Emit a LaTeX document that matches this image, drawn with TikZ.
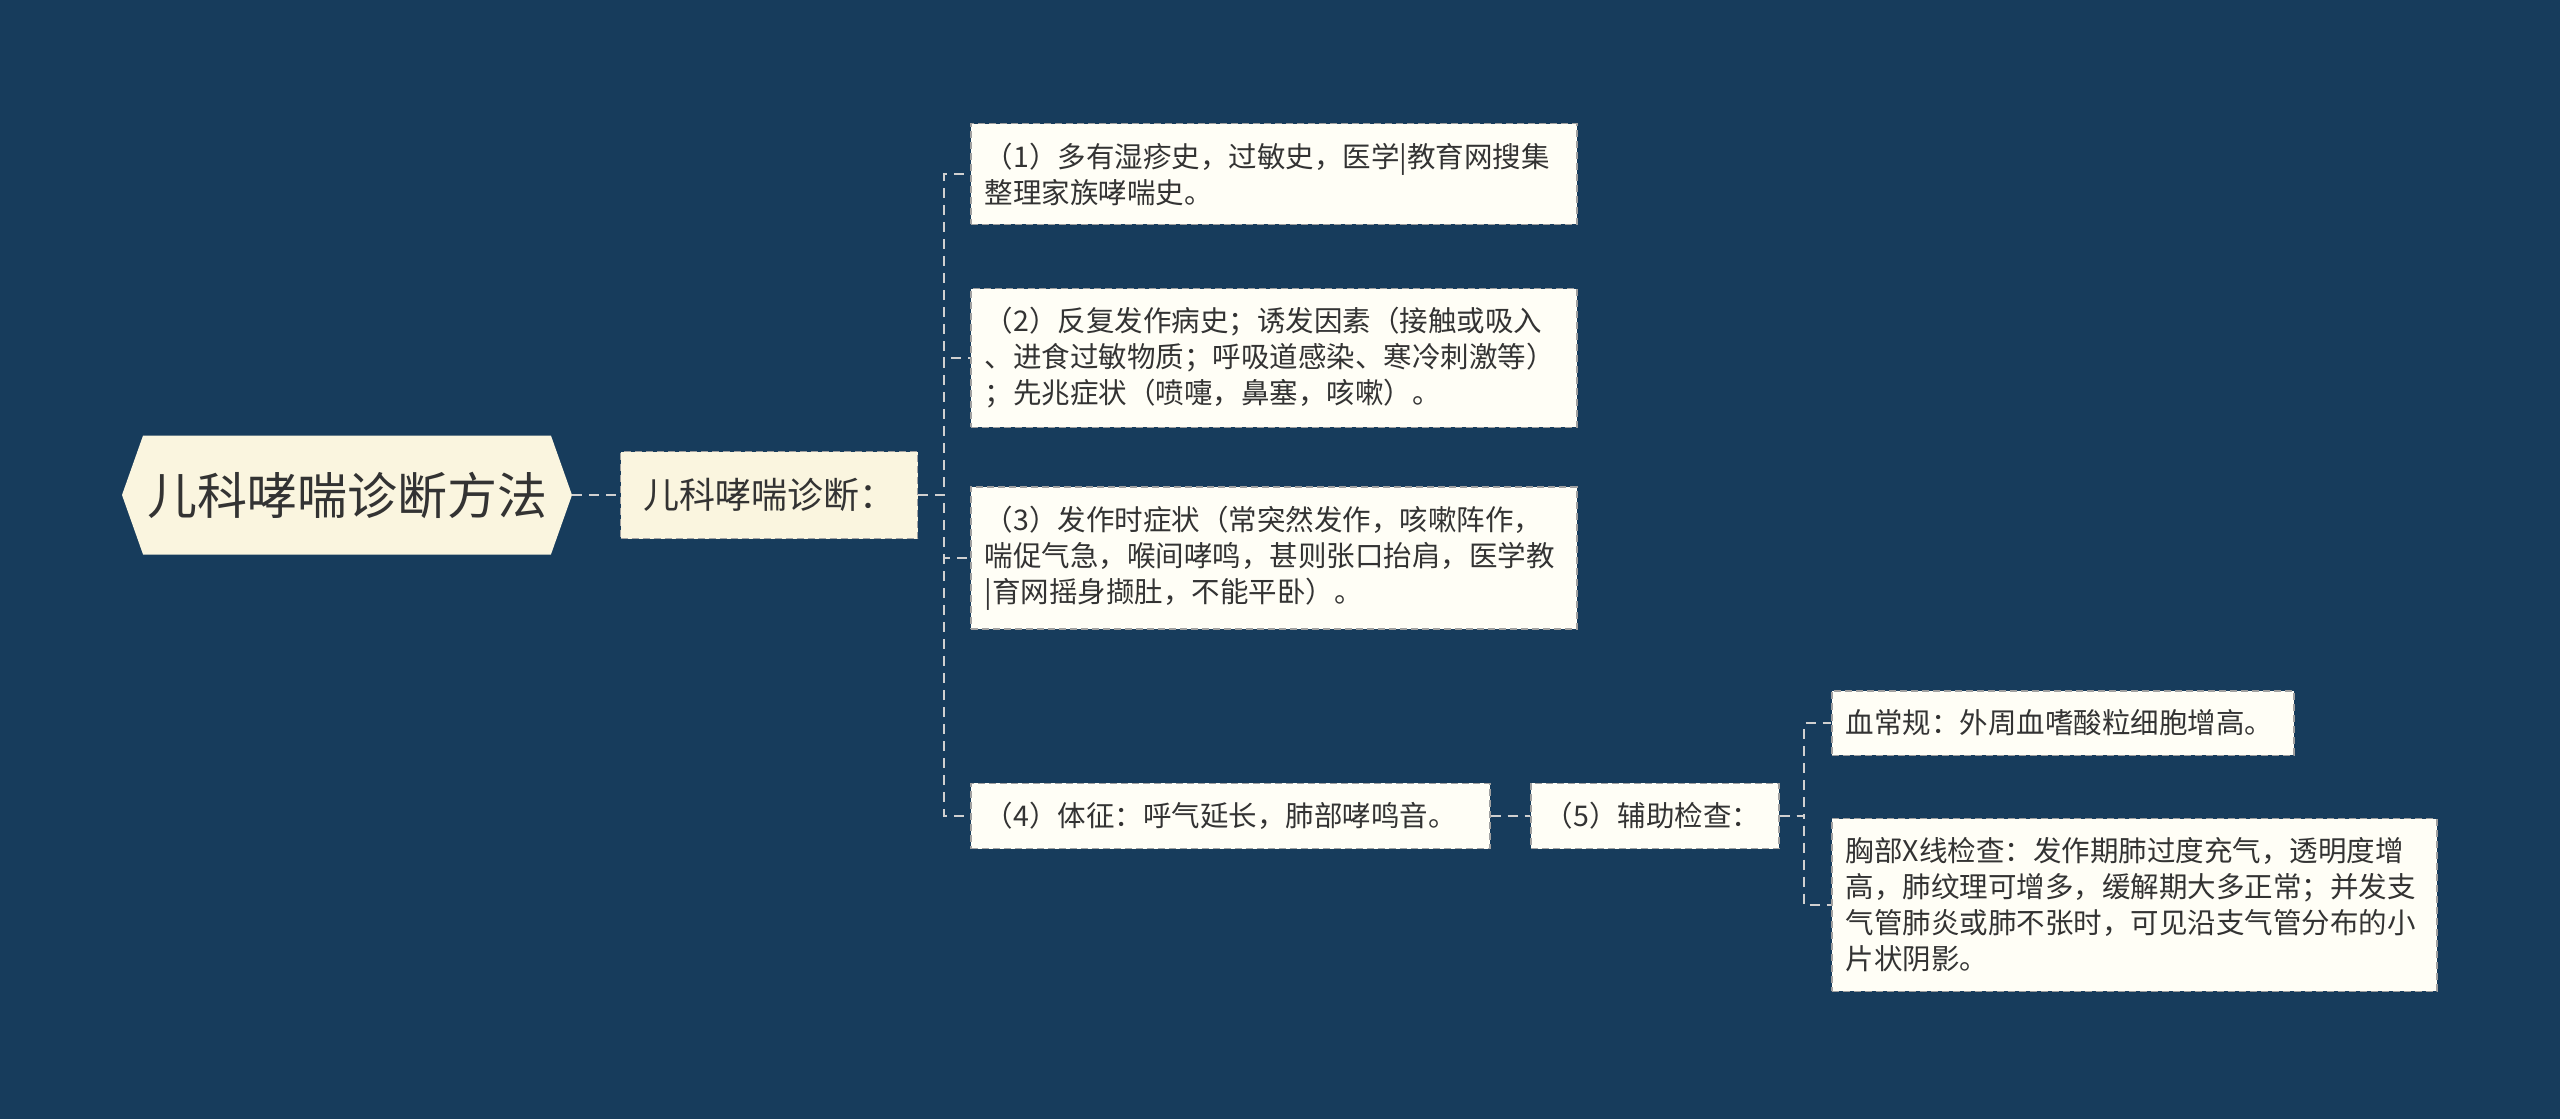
\documentclass[tikz,border=0pt]{standalone}
\usepackage{fontspec}
\usepackage{xcolor}
\usepackage{tikz}
\usetikzlibrary{positioning,shapes.symbols}
\newfontfamily\cjk{Noto Sans CJK SC}
\definecolor{bgblue}{HTML}{173C5C}
\definecolor{creamfill}{HTML}{FAF5DF}
\definecolor{leaffill}{HTML}{FFFEF6}
\definecolor{boxborder}{HTML}{A0A0A0}
\definecolor{wiregray}{HTML}{D0D0D0}
\definecolor{inkgray}{HTML}{333333}
\tikzset{
	rootnode/.style={signal, signal to=west and east, signal pointer angle=141, fill=creamfill, text=inkgray, minimum width=450pt, minimum height=119pt, inner sep=0pt, font=\cjk\fontsize{50}{60}\selectfont},
	midnode/.style={rectangle, draw=boxborder, fill=creamfill, text=inkgray, line width=1.5pt, dash pattern=on 7pt off 4pt, minimum width=297pt, minimum height=87pt, inner xsep=8pt, font=\cjk\fontsize{36}{44}\selectfont},
	leafnode/.style={rectangle, draw=boxborder, fill=leaffill, text=inkgray, line width=1.5pt, dash pattern=on 7pt off 4pt, anchor=west, align=left, inner xsep=14pt, inner ysep=19pt, font=\cjk\fontsize{28.5}{36}\selectfont},
	wire/.style={draw=wiregray, line width=2pt, dash pattern=on 10pt off 7pt}
}
\begin{document}
\begin{tikzpicture}[x=1pt, y=-1pt]
		\fill[bgblue] (0,0) rectangle (2560,1119);
		\useasboundingbox (0,0) rectangle (2560,1119);
		\node[rootnode] at (347,495) (root) {儿科哮喘诊断方法};
		\node[midnode] at (769,495) (diag) {儿科哮喘诊断：};
		
		\node[leafnode, text width=578pt] at (970,174) (p1) {（1）多有湿疹史，过敏史，医学|教育网搜集\\整理家族哮喘史。};
		\node[leafnode, text width=578pt] at (970,358) (p2) {（2）反复发作病史；诱发因素（接触或吸入\\、进食过敏物质；呼吸道感染、寒冷刺激等）\\；先兆症状（喷嚏，鼻塞，咳嗽）。};
		\node[leafnode, text width=578pt] at (970,558) (p3) {（3）发作时症状（常突然发作，咳嗽阵作，\\喘促气急，喉间哮鸣，甚则张口抬肩，医学教\\|育网摇身撷肚，不能平卧）。};
		\node[leafnode, text width=491pt] at (970,816) (p4) {（4）体征：呼气延长，肺部哮鸣音。};
		\node[leafnode, text width=220pt] at (1530,816) (aux) {（5）辅助检查：};
		
		\node[leafnode, text width=434pt] at (1831,723) (blood) {血常规：外周血嗜酸粒细胞增高。};
		\node[leafnode, text width=577pt] at (1831,905) (xray) {胸部X线检查：发作期肺过度充气，透明度增\\高，肺纹理可增多，缓解期大多正常；并发支\\气管肺炎或肺不张时，可见沿支气管分布的小\\片状阴影。};
		
		%Lines
		\coordinate (trunk) at (944,495);
		\coordinate (trunk2) at (1804,816);
		\draw[wire] (root.east) -- (diag.west);
		\foreach \n in {p1,p2,p3,p4}
			\draw[wire] (diag.east) -- (trunk) |- (\n.west);
		\draw[wire] (p4.east) -- (aux.west);
		\foreach \n in {blood,xray}
			\draw[wire] (aux.east) -- (trunk2) |- (\n.west);
		
	\end{tikzpicture}
\end{document}
